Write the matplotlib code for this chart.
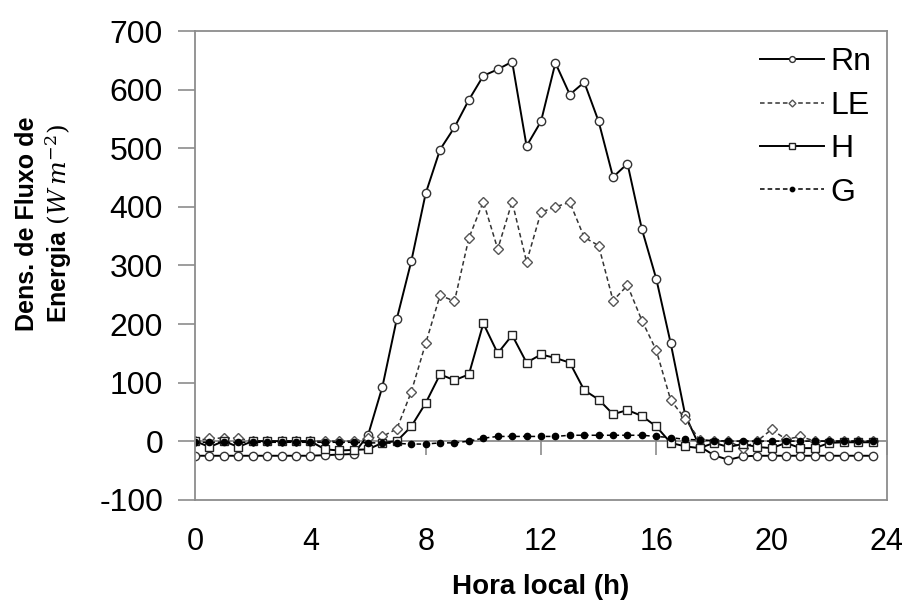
import numpy as np
import matplotlib

matplotlib.use("Agg")
import matplotlib.pyplot as plt

# half-hourly local time, 0.0 ... 23.5 h
hours = np.arange(0, 24, 0.5)

rn = [-25, -25, -25, -25, -25, -25, -25, -25, -25, -24, -23, -22,
      10, 93, 209, 307, 423, 498, 536, 583, 624, 635, 648, 504,
      546, 646, 592, 613, 546, 451, 474, 362, 277, 167, 45,
      -9, -24, -32, -26,
      -25, -25, -25, -25, -25, -25, -25, -25, -25]
le = [0, 5, 5, 5, 0, 0, 0, 0, 0, 0, 0, 0,
      5, 8, 21, 84, 167, 249, 239, 347, 409, 328, 409, 306,
      391, 400, 408, 348, 334, 240, 266, 206, 155, 70, 38,
      2, 0, 0, -12,
      0, 20, 3, 8, 0, 0, 0, 0, 0]
h = [0, -10, 0, -10, 0, 0, 0, 0, 0, -14, -16, -15,
     -14, -3, 0, 25, 65, 114, 104, 114, 201, 150, 181, 134,
     148, 142, 134, 87, 71, 46, 53, 43, 25, -3, -9,
     -12, -3, -10, -5,
     -10, -12, -3, -12, -12, -3, -2, -2, -2]
g = [-2, -2, -2, -2, -2, -2, -2, -2, -2, -2, -2, -2,
     -3, -3, -4, -5, -5, -3, -3, 0, 5, 8, 8, 8,
     8, 8, 10, 10, 10, 10, 10, 10, 8, 6, 3,
     2, 1, 0, 0,
     0, 0, 0, 0, 0, 0, 0, 0, 0]

x_ticks = [0, 4, 8, 12, 16, 20, 24]
y_ticks = [-100, 0, 100, 200, 300, 400, 500, 600, 700]

plt.rcParams["font.family"] = ["Liberation Sans", "DejaVu Sans"]
plt.rcParams["mathtext.fontset"] = "dejavuserif"
plt.rcParams["axes.unicode_minus"] = False

frame_gray = "#8c8c8c"

fig = plt.figure(figsize=(9.08, 6.02), dpi=100)
ax = fig.add_axes([0.2148, 0.170, 0.762, 0.778])

ax.plot(hours, rn, color="black", linewidth=1.4, marker="o", markersize=6,
        markerfacecolor="white", markeredgecolor="#333333", markeredgewidth=1.0, label="Rn")
ax.plot(hours, le, color="#333333", linewidth=1.1, linestyle=(0, (3, 2)), marker="D", markersize=5,
        markerfacecolor="white", markeredgecolor="#555555", markeredgewidth=1.0, label="LE")
ax.plot(hours, h, color="black", linewidth=1.4, marker="s", markersize=6,
        markerfacecolor="white", markeredgecolor="#222222", markeredgewidth=1.0, label="H")
ax.plot(hours, g, color="black", linewidth=1.1, linestyle=(0, (3, 2)), marker="o", markersize=4.5,
        markerfacecolor="black", markeredgecolor="black", label="G")

ax.set_xlim(0, 24)
ax.set_ylim(-100, 700)
ax.set_xticks(x_ticks)
ax.set_yticks(y_ticks)
ax.tick_params(axis="y", direction="out", length=12, width=1.2, color=frame_gray,
               labelsize=23, pad=11)
ax.tick_params(axis="x", length=0, labelsize=22, pad=20)
for spine in ax.spines.values():
    spine.set_color(frame_gray)
    spine.set_linewidth(1.3)

# horizontal axis drawn at y = 0 with its ticks pointing down
ymin, ymax = ax.get_ylim()
zero_ax = ax.secondary_xaxis((0 - ymin) / (ymax - ymin))
zero_ax.set_xticks(x_ticks)
zero_ax.tick_params(axis="x", direction="out", length=10, width=1.2, color=frame_gray,
                    labelbottom=False, labeltop=False)
zero_ax.spines["bottom"].set_color(frame_gray)
zero_ax.spines["bottom"].set_linewidth(1.3)

ax.set_xlabel("Hora local (h)", fontsize=20, fontweight="bold", labelpad=12)
ax.set_ylabel("Dens. de Fluxo de\nEnergia $\\left(W\\,m^{-2}\\right)$", fontsize=18,
              fontweight="bold", multialignment="center")
ax.yaxis.set_label_coords(-0.175, 0.59)

ax.legend(loc="upper right", frameon=False, fontsize=23, handlelength=2.0, handletextpad=0.2,
          labelspacing=0.42, borderaxespad=0.1, markerscale=0.7)

fig.savefig("out.png", dpi=100)
plt.close(fig)
